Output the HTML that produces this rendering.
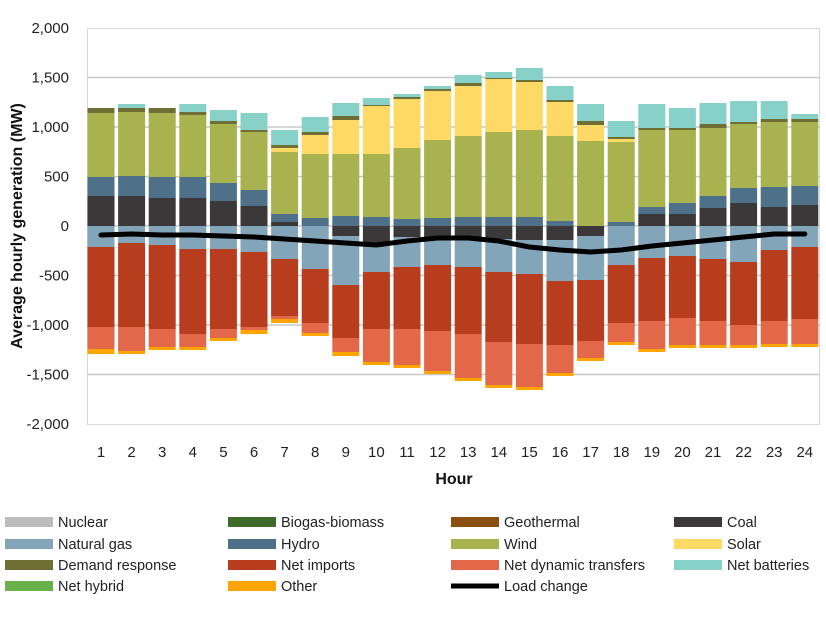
<!DOCTYPE html>
<html><head><meta charset="utf-8"><style>
body{margin:0;background:#fff;}
svg{display:block;font-family:"Liberation Sans",sans-serif;}
</style></head><body>
<svg id="s" width="826" height="620" xmlns="http://www.w3.org/2000/svg">
<rect width="826" height="620" fill="#fff"/>
<rect x="87.5" y="28.5" width="732" height="396" fill="none" stroke="#d9d9d9"/>
<g id="grid" stroke="#c8c8c8" stroke-width="1.5"></g>
<g id="bars"></g>
<polyline id="load" fill="none" stroke="#000" stroke-width="5" stroke-linejoin="round" stroke-linecap="round"/>
<g id="ylab" font-size="15" fill="#222" text-anchor="end"></g>
<g id="xlab" font-size="15" fill="#222" text-anchor="middle"></g>
<text x="454" y="484" font-size="16" font-weight="bold" text-anchor="middle" fill="#111">Hour</text>
<text transform="translate(22,226) rotate(-90)" font-size="16" font-weight="bold" text-anchor="middle" fill="#111">Average hourly generation (MW)</text>
<g id="leg" font-size="14.5" fill="#222"></g>
</svg>
<script>
const NS="http://www.w3.org/2000/svg";
function el(p,t,a,txt){const e=document.createElementNS(NS,t);for(const k in a)e.setAttribute(k,a[k]);if(txt!==undefined)e.textContent=txt;p.appendChild(e);return e;}
const grid=document.getElementById('grid'),yl=document.getElementById('ylab'),xl=document.getElementById('xlab');
const vals=[2000,1500,1000,500,0,-500,-1000,-1500,-2000];
vals.forEach((v,i)=>{const y=28+i*49.5;if(i>0&&i<8)el(grid,'line',{x1:87,x2:820,y1:y,y2:y});
el(yl,'text',{x:69,y:y+5},v.toLocaleString('en-US').replace('-','-'));});
const C={coal:'#3b3839',hydro:'#4e7189',wind:'#a8b24f',solar:'#fed966',dr:'#6e6e35',batt:'#88d1c8',gas:'#83a5b9',imp:'#b83c1e',dyn:'#e36849',oth:'#ffa500'};
// positive: [coalTop,hydroTop,windTop,solarTop,drTop,battTop]
const P=[[196,177,113,113,108,108],[196,176,112,112,108,104],[198,177,113,113,108,108],[198,177,115,115,112,104],
[201,183,124,124,121,110],[206,190,132,132,130,113],[222,214,152,148,145,130],[226,218,154,135,132,117],
[226,216,154,120,116,103],[226,217,154,106,105,98],[226,219,148,99,97,94],[226,218,140,91,89,86],
[226,217,136,86,83,75],[226,217,132,79,78,72],[226,217,130,82,80,68],[226,221,136,102,100,86],
[226,226,141,125,121,104],[226,222,142,139,137,121],[214,207,130,130,128,104],[214,203,130,130,128,108],
[208,196,128,128,124,103],[203,188,124,124,122,101],[207,187,122,122,119,101],[205,186,122,122,119,114]];
// negative: [coalBottom,gasBottom,impBottom,dynBottom,otherBottom]
const N=[[226,247,327,349,354],[226,243,327,351,354],[226,245,329,347,350],[226,249,334,347,350],
[226,249,329,338,341],[226,252,327,330,334],[226,259,316,319,323],[226,269,323,333,336],
[236,285,338,352,356],[245,272,329,362,365],[237,267,329,365,368],[237,265,331,371,374],
[237,267,334,378,381],[239,272,342,385,388],[240,274,344,387,390],[240,281,345,373,376],
[236,280,341,358,361],[226,265,323,342,345],[226,258,321,349,352],[226,256,318,345,348],
[226,259,321,345,348],[226,262,325,345,348],[226,250,321,344,347],[226,247,319,344,347]];
const L=[235,234,235,235,236,237,239,241,243,245,241,238,238,241,247,250,252,250,246,243,240,237,234,234];
const bars=document.getElementById('bars');const pts=[];
for(let i=0;i<24;i++){const cx=101+i*30.6,x=cx-13.5,w=27;
 const p=P[i];let prev=226;const pk=['coal','hydro','wind','solar','dr','batt'];
 p.forEach((t,j)=>{if(t<prev){el(bars,'rect',{x,y:t,width:w,height:prev-t,fill:C[pk[j]]});prev=t;}});
 const n=N[i];prev=226;const nk=['coal','gas','imp','dyn','oth'];
 n.forEach((b,j)=>{if(b>prev){el(bars,'rect',{x,y:prev,width:w,height:b-prev,fill:C[nk[j]]});prev=b;}});
 el(xl,'text',{x:cx,y:457},i+1);pts.push(cx+','+L[i]);}
document.getElementById('load').setAttribute('points',pts.join(' '));
const leg=document.getElementById('leg');
const items=[['Nuclear','#bdbdbd'],['Biogas-biomass','#3f6b2a'],['Geothermal','#8b4f12'],['Coal','#3b3839'],
['Natural gas','#83a5b9'],['Hydro','#4e7189'],['Wind','#a8b24f'],['Solar','#fed966'],
['Demand response','#6e6e35'],['Net imports','#b83c1e'],['Net dynamic transfers','#e36849'],['Net batteries','#88d1c8'],
['Net hybrid','#6ab04c'],['Other','#ffa500'],['Load change',null]];
const cols=[5,228,451,674],rows=[522,544,565,586];
items.forEach((it,k)=>{const c=k%4,r=Math.floor(k/4),x=cols[c],y=rows[r];
 if(it[1])el(leg,'rect',{x,y:y-5,width:48,height:10,fill:it[1]});
 else el(leg,'rect',{x,y:y-2.5,width:48,height:5,fill:'#000'});
 el(leg,'text',{x:x+53,y:y+5},it[0]);});
</script>
</body></html>
